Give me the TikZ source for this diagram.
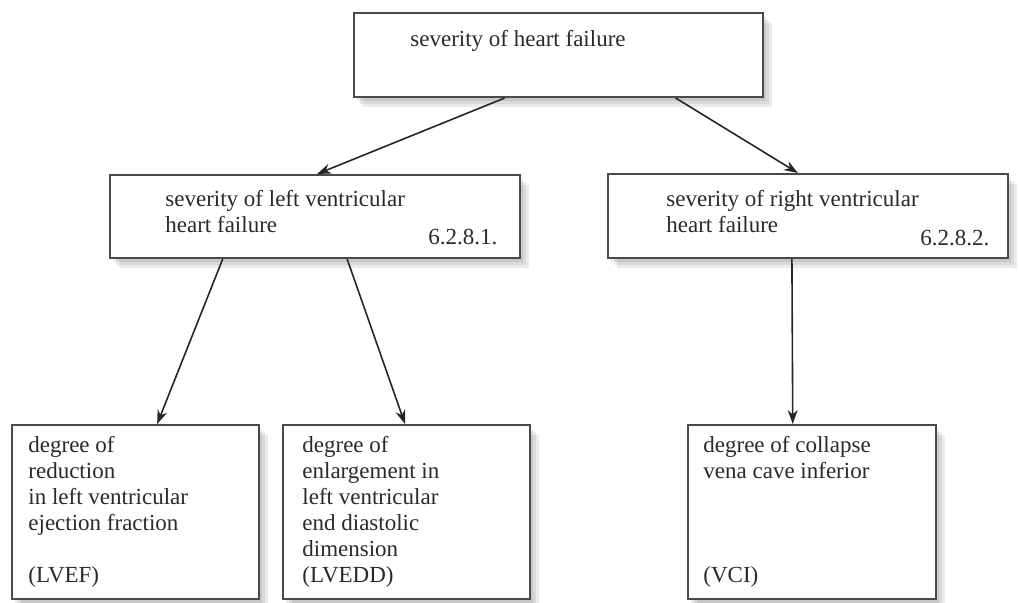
\documentclass[tikz,border=0pt]{standalone}
\usepackage{fontspec}
\setmainfont{Liberation Serif}
\usetikzlibrary{arrows.meta,calc}
\definecolor{ink}{HTML}{2A2A2A}
\definecolor{edge}{HTML}{4A4A4A}
\begin{document}
\begin{tikzpicture}[x=0.5pt,y=-0.5pt,
  box/.style={draw=edge,line width=1pt,fill=white,inner sep=0pt,
    preaction={fill=black,opacity=0.08,transform canvas={shift={(1.5pt,-2pt)}}},
    preaction={fill=black,opacity=0.08,transform canvas={shift={(3pt,-3.5pt)}}},
    preaction={fill=black,opacity=0.08,transform canvas={shift={(4.5pt,-5pt)}}}},
  txt/.style={text=ink,font=\fontsize{11.5}{13}\selectfont,align=left,inner sep=0pt,anchor=base west},
  link/.style={draw=black!85,line width=0.8pt,-{Stealth[length=7pt,width=5pt]}}]
\useasboundingbox (0,0) rectangle (1019,602);

% boxes
\node[box,minimum width=204.5pt,minimum height=42pt] (root) at (558.5,55) {};
\node[box,minimum width=205pt,minimum height=41.5pt] (lv) at (315,216.5) {};
\node[box,minimum width=200pt,minimum height=42pt] (rv) at (808,216) {};
\node[box,minimum width=123.5pt,minimum height=87pt] (b1) at (135.5,512) {};
\node[box,minimum width=123.5pt,minimum height=87pt] (b2) at (406.5,512) {};
\node[box,minimum width=124pt,minimum height=87pt] (b3) at (812,512) {};

% texts (the base anchor of a multi-line text is its last baseline)
\node[txt] (troot) at (410,46) {severity of heart failure};
\node[txt] (tlv) at (165,232) {severity of left ventricular\\heart failure};
\node[txt] (nlv) at (428,244) {6.2.8.1.};
\node[txt] (trv) at (666,232) {severity of right ventricular\\heart failure};
\node[txt] (nrv) at (920,245) {6.2.8.2.};
\node[txt] (tb1) at (28,582) {degree of\\reduction\\in left ventricular\\ejection fraction\\[13pt](LVEF)};
\node[txt] (tb2) at (302,582) {degree of\\enlargement in\\left ventricular\\end diastolic\\dimension\\(LVEDD)};
\node[txt] (tb3) at (703,582) {degree of collapse\\vena cave inferior\\[39pt](VCI)};

% connectors
\draw[link] ($(root.south west)!0.369!(root.south east)$) -- ($(lv.north west)!0.505!(lv.north east)$);
\draw[link] ($(root.south west)!0.785!(root.south east)$) -- ($(rv.north west)!0.475!(rv.north east)$);
\draw[link] ($(lv.south west)!0.276!(lv.south east)$) -- ($(b1.north west)!0.587!(b1.north east)$);
\draw[link] ($(lv.south west)!0.578!(lv.south east)$) -- ($(b2.north west)!0.494!(b2.north east)$);
\draw[link] ($(rv.south west)!0.46!(rv.south east)$) -- ($(b3.north west)!0.423!(b3.north east)$);
\end{tikzpicture}
\end{document}
